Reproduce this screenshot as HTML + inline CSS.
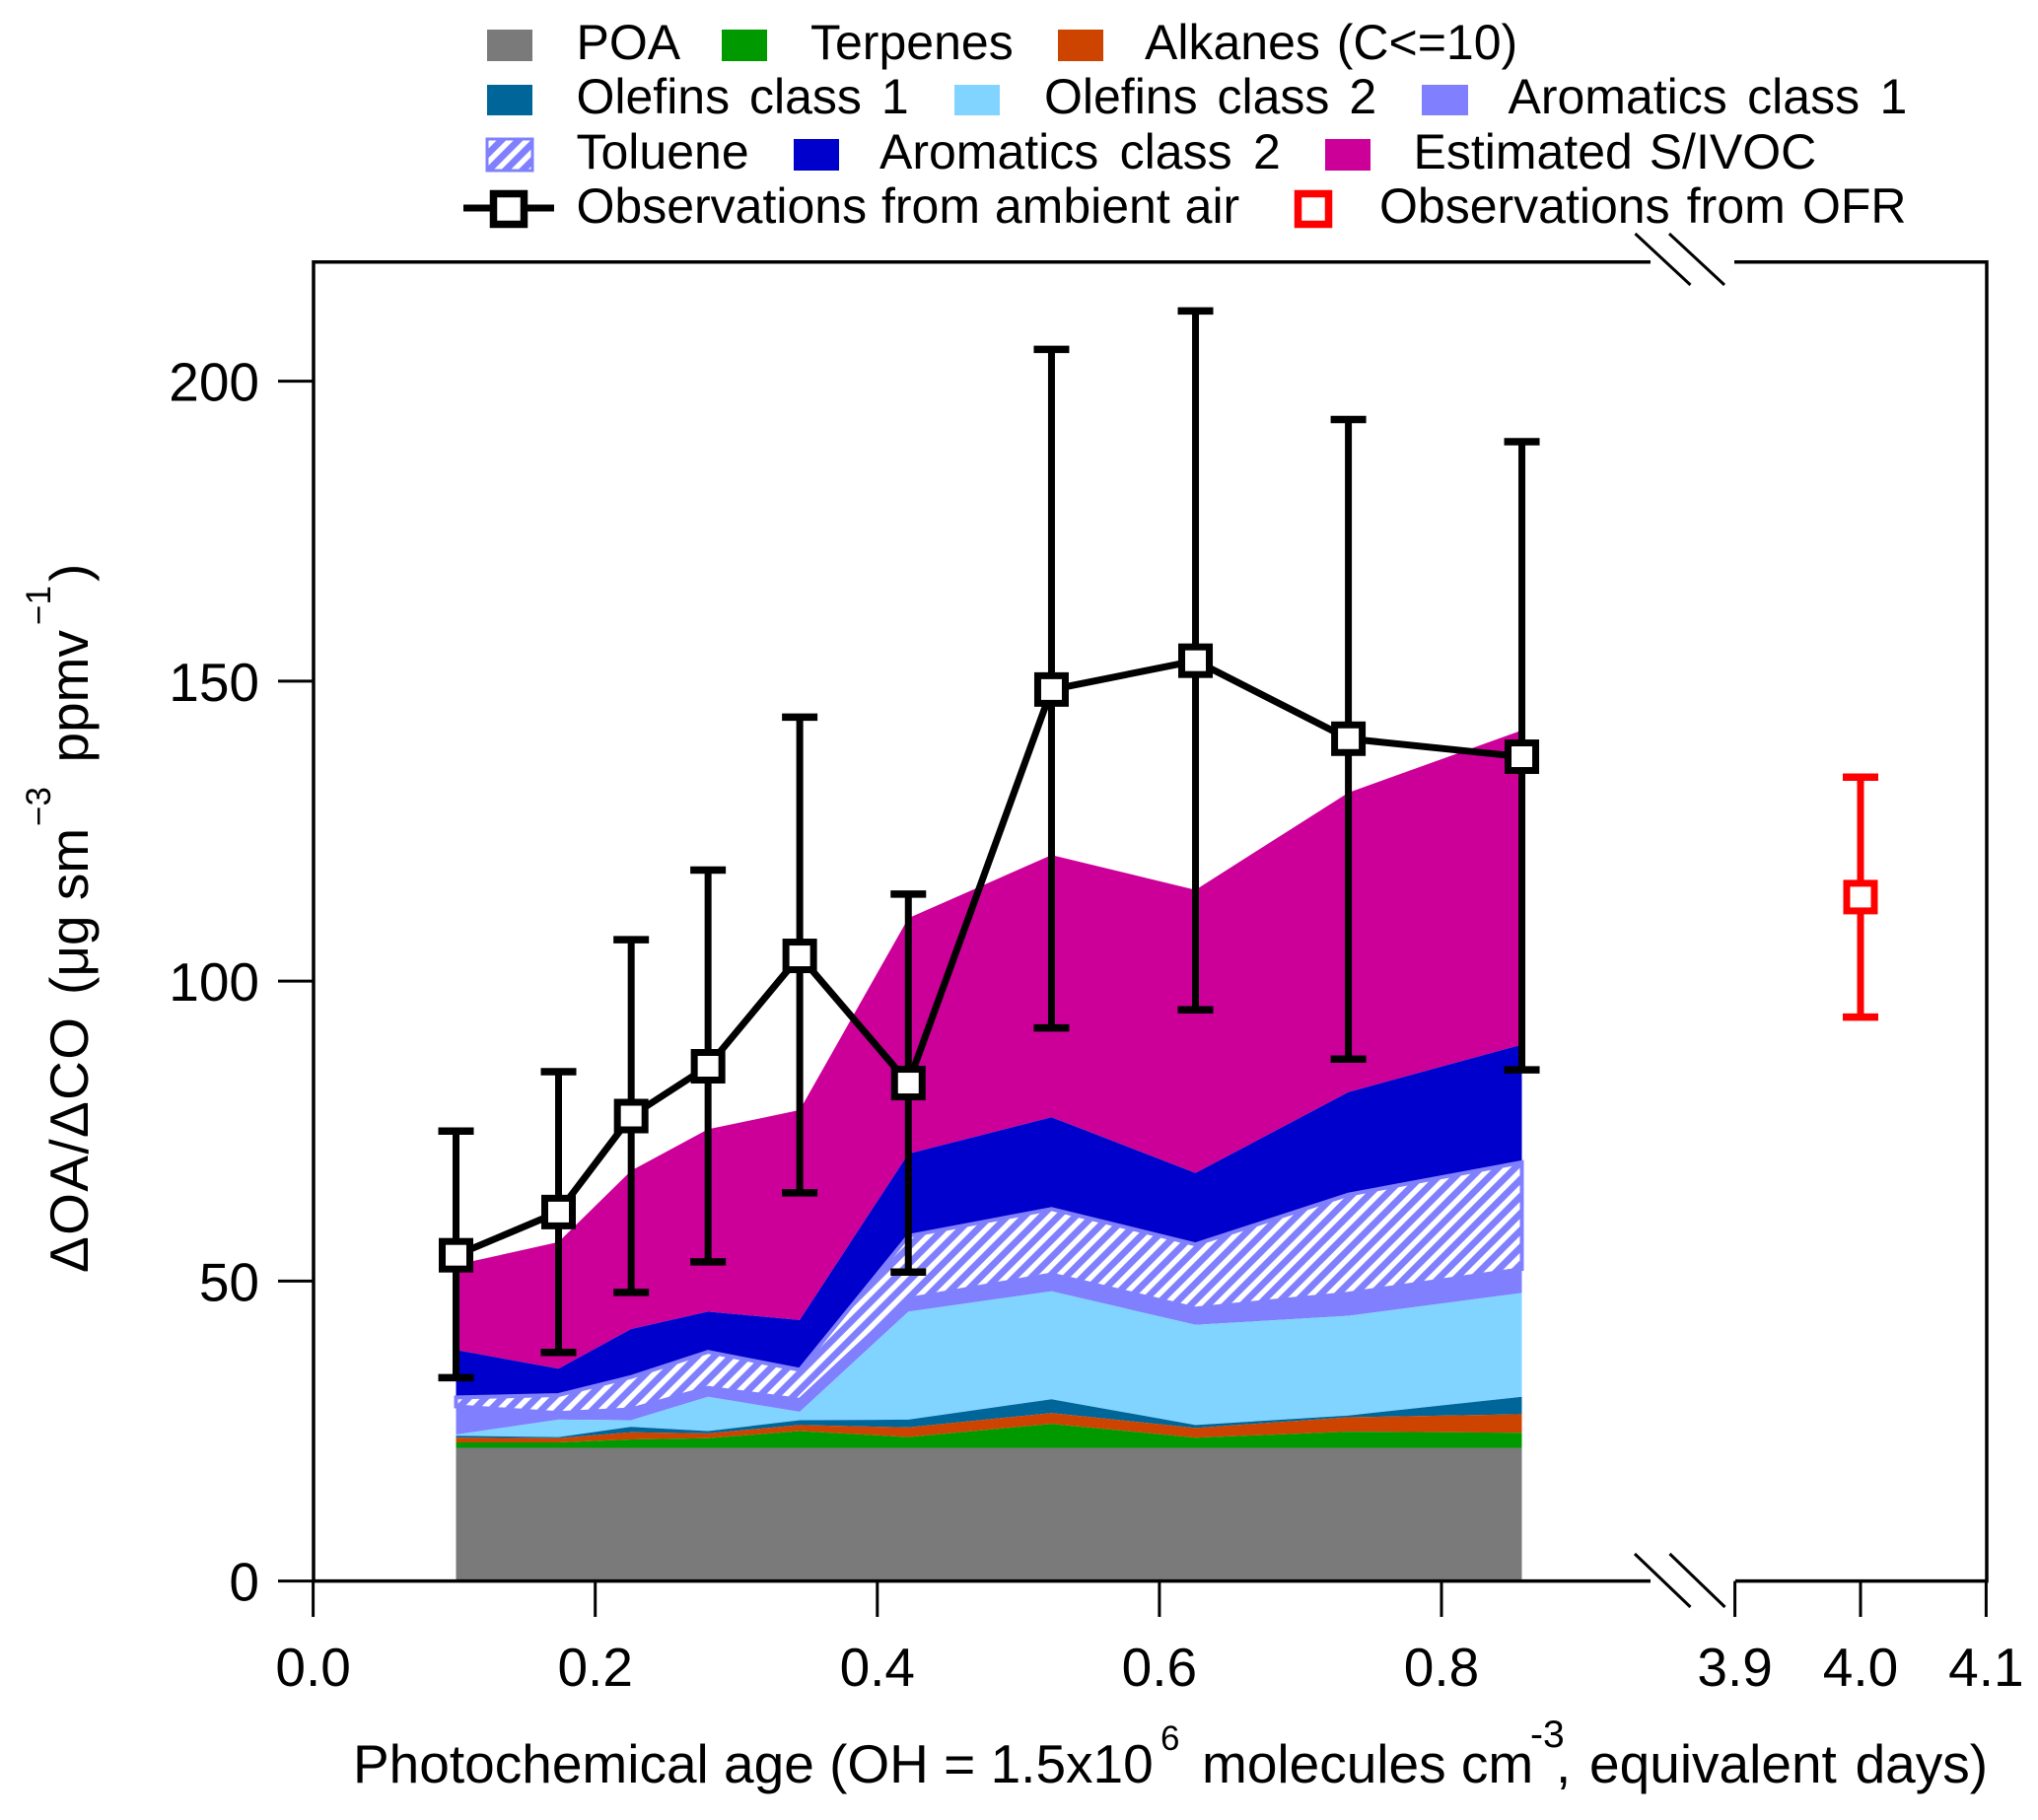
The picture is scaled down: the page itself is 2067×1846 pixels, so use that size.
<!DOCTYPE html>
<html lang="en">
<head>
<meta charset="utf-8">
<title>Photochemical age vs OA/CO</title>
<style>
html,body{margin:0;padding:0;background:#fff}
svg{display:block}
text{font-family:"Liberation Sans",Arial,sans-serif;fill:#000}
.lg{font-size:50px;word-spacing:3px}
.tick{font-size:55px}
.ax{font-size:55px}
.sup{font-size:35px}
</style>
</head>
<body>
<svg id="chart" xmlns="http://www.w3.org/2000/svg" width="2067" height="1846" viewBox="0 0 2067 1846">
<defs>
<pattern id="hatch" patternUnits="userSpaceOnUse" width="12.2" height="12.2" patternTransform="rotate(-45)">
<rect width="12.2" height="12.2" fill="#8080ff"/>
<rect x="0" y="0" width="12.2" height="5.4" fill="#ffffff"/>
</pattern>
</defs>
<rect width="2067" height="1846" fill="#fff"/>
<g id="areas"></g>
<g id="axes" fill="none" stroke="#000" stroke-width="3.5">
<path d="M1674 265.7H318V1603.6H1674"/>
<path d="M1759 265.7H2015V1603.6H1760"/>
<path stroke-width="3" d="M1658.5 237L1714.5 289"/>
<path stroke-width="3" d="M1693 237L1749 289"/>
<path stroke-width="3" d="M1658 1576L1714.5 1630"/>
<path stroke-width="3" d="M1693.5 1576L1749.5 1630"/>
</g>
<g id="ticks"></g>
<g id="marks"></g>

<g>
<rect x="494" y="30" width="46" height="32" fill="#7a7a7a"/>
<text class="lg" x="584.5" y="60">POA</text>
<rect x="732" y="30" width="46" height="32" fill="#009900"/>
<text class="lg" x="822" y="60">Terpenes</text>
<rect x="1073" y="30" width="46" height="32" fill="#cc4400"/>
<text class="lg" x="1161" y="60">Alkanes (C&lt;=10)</text>

<rect x="494" y="86" width="46" height="31" fill="#006699"/>
<text class="lg" x="584.5" y="115" style="word-spacing:6px">Olefins class 1</text>
<rect x="968" y="86" width="46" height="31" fill="#80d4ff"/>
<text class="lg" x="1059" y="115" style="word-spacing:6px">Olefins class 2</text>
<rect x="1442" y="86" width="47" height="31" fill="#8080ff"/>
<text class="lg" x="1529.5" y="115" style="word-spacing:6.5px">Aromatics class 1</text>

<rect x="494" y="141" width="46" height="32" fill="url(#hatch)" stroke="#8080ff" stroke-width="3"/>
<text class="lg" x="584.5" y="171">Toluene</text>
<rect x="805" y="141" width="46" height="32" fill="#0000cc"/>
<text class="lg" x="892" y="171" style="word-spacing:7.5px">Aromatics class 2</text>
<rect x="1344" y="141" width="46" height="32" fill="#cc0099"/>
<text class="lg" x="1433.5" y="171">Estimated S/IVOC</text>

<line x1="470" x2="562" y1="211" y2="211" stroke="#000" stroke-width="7"/>
<rect x="500.5" y="196.5" width="31" height="31" fill="#fff" stroke="#000" stroke-width="7.5"/>
<text class="lg" x="584.5" y="226" style="word-spacing:1px">Observations from ambient air</text>
<rect x="1316.5" y="196.5" width="31" height="31" fill="#fff" stroke="#ff0000" stroke-width="7.5"/>
<text class="lg" x="1399" y="226" style="word-spacing:3.3px">Observations from OFR</text>
</g>

<g>
<text class="ax" x="358" y="1808">Photochemical age (OH = 1.5x10</text>
<text class="sup" x="1177" y="1775">6</text>
<text class="ax" x="1219" y="1808">molecules cm</text>
<text class="sup" x="1552" y="1772" style="font-size:39px">-3</text>
<text class="ax" x="1578" y="1808" style="word-spacing:3.5px">, equivalent days)</text>
</g>

<g>
<text class="ax" transform="translate(89 1291) rotate(-90)" textLength="259" lengthAdjust="spacing">ΔOA/ΔCO</text>
<text class="ax" transform="translate(89 1009) rotate(-90)">(μg sm</text>
<text class="sup" transform="translate(51 838) rotate(-90)">−3</text>
<text class="ax" transform="translate(89 773.5) rotate(-90)">ppmv</text>
<text class="sup" transform="translate(51 634) rotate(-90)">−1</text>
<text class="ax" transform="translate(89 590) rotate(-90)">)</text>
</g>
</svg>
<script>
// Photochemical age of each ambient observation bin (days)
const ages = [0.1013, 0.174, 0.2255, 0.28, 0.345, 0.422, 0.5235, 0.6256, 0.734, 0.857];
// Upper boundary of each stacked band (ug sm-3 ppmv-1)
const poaTop = [22.2, 22.2, 22.2, 22.2, 22.2, 22.2, 22.2, 22.2, 22.2, 22.2];
const terpenesTop = [23.1, 23.1, 23.6, 23.8, 25.0, 24.0, 26.2, 23.9, 24.9, 24.7];
const alkanesTop = [23.9, 23.8, 24.8, 24.6, 26.0, 25.6, 28.0, 25.5, 27.3, 27.8];
const olefins1Top = [24.2, 24.0, 25.7, 25.0, 26.8, 26.9, 30.3, 26.0, 27.6, 30.7];
const olefins2Top = [24.4, 26.9, 26.8, 30.7, 28.2, 44.9, 48.3, 42.7, 44.2, 48.0];
const aromatics1Top = [29.1, 28.0, 28.6, 32.2, 30.2, 47.0, 51.1, 45.4, 47.9, 52.0];
const tolueneTop = [30.6, 31.0, 34.0, 38.2, 35.2, 57.5, 62.0, 56.1, 64.4, 69.8];
const aromatics2Top = [38.5, 35.4, 42.0, 44.9, 43.5, 71.2, 77.3, 68.0, 81.5, 89.4];
const sivocTop = [52.7, 56.5, 68.4, 75.3, 78.5, 110.5, 121.0, 115.2, 131.4, 141.8];
// Ambient observations
const obsMean = [54.3, 61.5, 77.5, 85.8, 104.2, 83.0, 148.6, 153.4, 140.4, 137.4];
const obsHigh = [75.0, 84.9, 106.9, 118.5, 144.0, 114.5, 205.3, 211.7, 193.6, 189.9];
const obsLow = [33.9, 38.1, 48.1, 53.2, 64.7, 51.5, 92.2, 95.2, 87.0, 85.2];
// OFR observation
const ofrAge = [4.0];
const ofrMean = [114.0];
const ofrHigh = [134.0];
const ofrLow = [94.0];
// Tick labels
const yTicks = [0, 50, 100, 150, 200];
const xTicksLeft = ["0.0", "0.2", "0.4", "0.6", "0.8"];
const xTicksRight = ["3.9", "4.0", "4.1"];

function xScale(v) {
  return v < 2 ? 317.6 + 1430.5 * v : 1887 + 1274 * (v - 4);
}
function yScale(v) {
  return 1603.6 - 6.085 * v;
}
const NS = "http://www.w3.org/2000/svg";
function make(parent, tag, attrs) {
  const el = document.createElementNS(NS, tag);
  for (const k in attrs) el.setAttribute(k, attrs[k]);
  parent.appendChild(el);
  return el;
}

const areasG = document.getElementById("areas");
const ticksG = document.getElementById("ticks");
const marksG = document.getElementById("marks");

function bandPoints(top, bottom) {
  const up = ages.map((a, i) => xScale(a).toFixed(1) + "," + yScale(top[i]).toFixed(1));
  const down = ages.map((a, i) => xScale(a).toFixed(1) + "," + yScale(bottom ? bottom[i] : 0).toFixed(1)).reverse();
  return up.concat(down).join(" ");
}
const zeros = ages.map(() => 0);

const sivocBand = make(areasG, "polygon", { points: bandPoints(sivocTop, aromatics2Top), fill: "#cc0099" });


const aromatics2Band = make(areasG, "polygon", { points: bandPoints(aromatics2Top, tolueneTop), fill: "#0000cc" });


const tolueneBand = make(areasG, "polygon", { points: bandPoints(tolueneTop, aromatics1Top), fill: "url(#hatch)", stroke: "#8080ff", "stroke-width": 4 });


const aromatics1Band = make(areasG, "polygon", { points: bandPoints(aromatics1Top, olefins2Top), fill: "#8080ff" });


const olefins2Band = make(areasG, "polygon", { points: bandPoints(olefins2Top, olefins1Top), fill: "#80d4ff" });


const olefins1Band = make(areasG, "polygon", { points: bandPoints(olefins1Top, alkanesTop), fill: "#006699" });


const alkanesBand = make(areasG, "polygon", { points: bandPoints(alkanesTop, terpenesTop), fill: "#cc4400" });


const terpenesBand = make(areasG, "polygon", { points: bandPoints(terpenesTop, poaTop), fill: "#009900" });


const poaBand = make(areasG, "polygon", { points: bandPoints(poaTop, zeros), fill: "#7a7a7a" });



yTicks.forEach(function (t) {
  const y = yScale(t);
  const tl = make(ticksG, "line", { x1: 282, x2: 318, y1: y, y2: y, stroke: "#000", "stroke-width": 3 });
  
  
  const lb = make(ticksG, "text", { x: 263, y: y + 20, "text-anchor": "end", class: "tick" });
  
  
  lb.textContent = String(t);
});
xTicksLeft.concat(xTicksRight).forEach(function (t) {
  const x = xScale(parseFloat(t));
  const tl = make(ticksG, "line", { x1: x, x2: x, y1: 1603.6, y2: 1640, stroke: "#000", "stroke-width": 3 });
  
  
  const lb = make(ticksG, "text", { x: x, y: 1710, "text-anchor": "middle", class: "tick" });
  
  
  lb.textContent = t;
});

function drawError(x, low, high, color, name) {
  const stem = make(marksG, "line", { x1: x, x2: x, y1: yScale(low), y2: yScale(high), stroke: color, "stroke-width": 7 });
  
  
  const capT = make(marksG, "line", { x1: x - 18, x2: x + 18, y1: yScale(high), y2: yScale(high), stroke: color, "stroke-width": 7.5 });
  
  
  const capB = make(marksG, "line", { x1: x - 18, x2: x + 18, y1: yScale(low), y2: yScale(low), stroke: color, "stroke-width": 7.5 });
  
  
}
function drawMarker(x, v, color, name) {
  const m = make(marksG, "rect", { x: x - 14, y: yScale(v) - 14, width: 28, height: 28, fill: "#fff", stroke: color, "stroke-width": 7 });
  
  
}

ages.forEach(function (a, i) {
  drawError(xScale(a), obsLow[i], obsHigh[i], "#000", "ambient");
});
const obsLine = make(marksG, "polyline", {
  points: ages.map((a, i) => xScale(a).toFixed(1) + "," + yScale(obsMean[i]).toFixed(1)).join(" "),
  fill: "none", stroke: "#000", "stroke-width": 7, "stroke-linejoin": "round"
});


ages.forEach(function (a, i) {
  drawMarker(xScale(a), obsMean[i], "#000", "ambient");
});
ofrAge.forEach(function (a, i) {
  drawError(xScale(a), ofrLow[i], ofrHigh[i], "#ff0000", "ofr");
  drawMarker(xScale(a), ofrMean[i], "#ff0000", "ofr");
});
</script>
</body>
</html>
